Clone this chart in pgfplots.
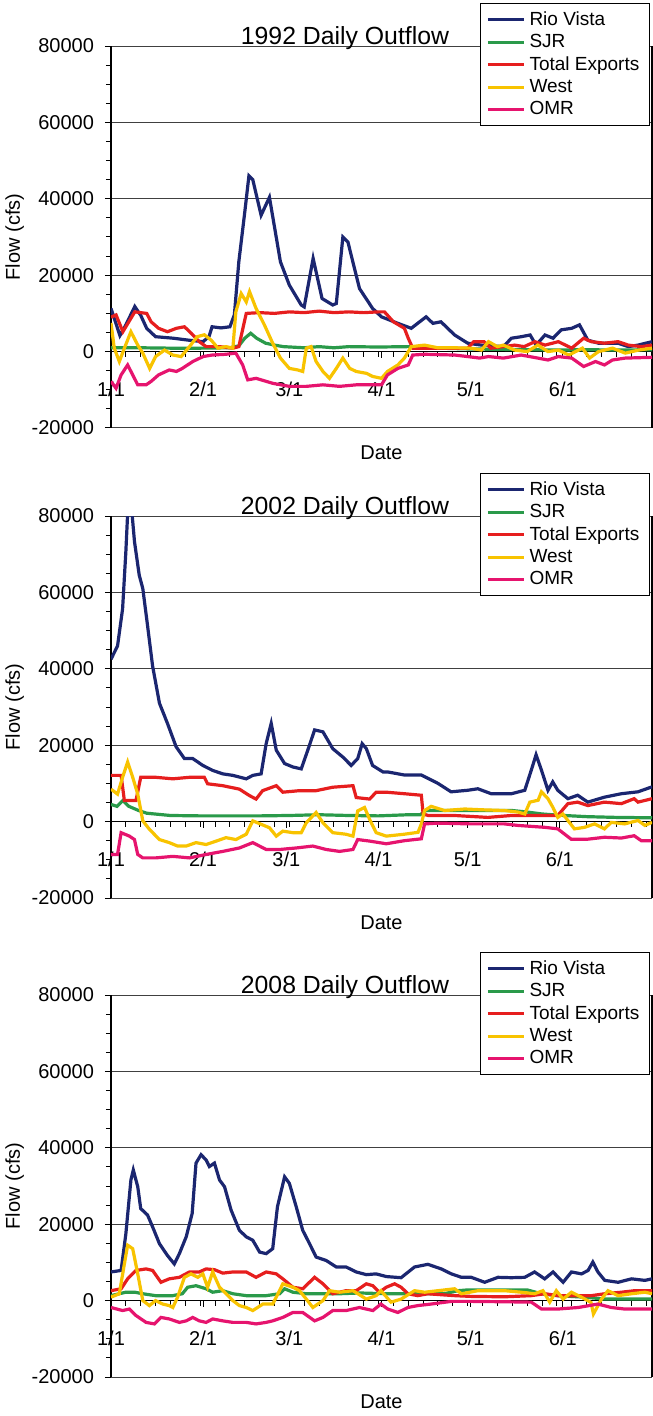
\documentclass[border=0pt]{standalone}
\usepackage{fontspec}
\setmainfont{Liberation Sans}
\usepackage{pgfplots}
\pgfplotsset{compat=1.18}

\definecolor{rio}{RGB}{27,38,112}
\definecolor{sjr}{RGB}{42,154,74}
\definecolor{exports}{RGB}{230,30,30}
\definecolor{west}{RGB}{248,195,0}
\definecolor{omr}{RGB}{230,20,110}

\pgfplotsset{
  flowpanel/.style={
    scale only axis, width=270.5pt, height=191pt,
    anchor=south west,
    xmin=0, xmax=182, ymin=-20000, ymax=80000,
    axis x line=middle, axis y line=box, ytick pos=left,
    axis line style={-, black, line width=0.6pt},
    hide obscured x ticks=false, hide obscured y ticks=false,
    ytick={-20000,0,20000,40000,60000,80000},
    minor ytick={-15000,-10000,...,75000},
    minor xtick={5,10,...,180},
    ymajorgrids, grid style={black!75, line width=0.5pt},
    tick align=outside,
    major tick length=3pt, minor tick length=2.5pt,
    tick style={black, line width=0.5pt},
    scaled y ticks=false,
    /pgf/number format/1000 sep={},
    /pgf/number format/assume math mode=true,
    tick label style={font=\fontsize{10}{12}\selectfont},
    xticklabel style={yshift=-8.5pt},
    yticklabel style={xshift=-2pt},
    every axis title shift=0pt,
    title style={at={(0.4325,1)}, anchor=base, yshift=1pt,
      font=\fontsize{12.4}{14}\selectfont},
    xlabel=Date, ylabel={Flow (cfs)},
    xlabel style={at={(axis description cs:0.5,-0.065)}, anchor=center,
      font=\fontsize{10}{12}\selectfont},
    ylabel style={at={(axis description cs:-0.178,0.5)}, anchor=center,
      font=\fontsize{10}{12}\selectfont},
    legend style={at={(0.996,1.113)}, anchor=north east, draw=black,
      line width=0.5pt, fill=white, font=\fontsize{9.5}{11}\selectfont,
      inner xsep=3pt, inner ysep=2pt, row sep=-1pt},
    legend cell align=left,
    legend image code/.code={\draw[#1] (0pt,0pt) -- (18pt,0pt);},
    every axis plot/.append style={line width=1.6pt, mark=none},
  }
}

\begin{document}
\begin{tikzpicture}
\useasboundingbox (0,0) rectangle (326pt,-708pt);

% 1992
\begin{axis}[flowpanel, at={(55.5pt,-214pt)}, title={1992 Daily Outflow},
  xtick={0,31,60,91,121,152}, xticklabels={1/1,2/1,3/1,4/1,5/1,6/1}]
\addplot[rio] coordinates {(0,11300)(3,4200)(5,7000)(8,11800)(10,9500)(12,6100)(15,3900)(21,3500)(26,3000)(31,2600)(33,4000)(34,6500)(37,6200)(40,6500)(41.5,9600)(43,23500)(45,36500)(46.4,46000)(47.7,45000)(50.5,35700)(53.3,40400)(57,23500)(60,17400)(64,12200)(65,11700)(68,24400)(71,13900)(74.6,12200)(75.8,12600)(78,30000)(79.7,28700)(83.6,16500)(88,11300)(91,9100)(96.5,7400)(101,6100)(106,9100)(108.3,7400)(111,7800)(115.6,4350)(120,2200)(124.6,1700)(132,1300)(134.7,3500)(138,3900)(141,4350)(143,1700)(146,4350)(148.7,3500)(151.5,5700)(155,6100)(157.6,7000)(160.4,3000)(164,2200)(170.6,2200)(174,1300)(177.3,1700)(182,2600)};
\addplot[sjr] coordinates {(0,1000)(10,1000)(20,900)(30,900)(40,1000)(43,1500)(45,3500)(47,4800)(49,3500)(52,2200)(55,1700)(58,1300)(65,1000)(70,1300)(75,1000)(80,1300)(90,1200)(100,1300)(110,900)(120,700)(130,600)(140,500)(150,400)(160,500)(170,400)(182,500)};
\addplot[exports] coordinates {(0,9000)(1.7,9600)(4,5200)(8,10400)(12,10000)(13.5,7800)(16,6100)(19,5200)(22,6100)(24.7,6500)(27,4800)(29.7,2600)(32,1300)(36.5,1300)(41,900)(43,1300)(45.5,10000)(50,10200)(55,10000)(60,10400)(65,10200)(70,10600)(75,10200)(80,10400)(85,10200)(90,10400)(92,10400)(95,7800)(98.7,6100)(100,3500)(101.5,900)(110,900)(120,900)(122,2600)(125.5,2600)(127.8,900)(132,1300)(135.8,1700)(139,1300)(142.6,2600)(146,1700)(150.5,2600)(155,900)(159,3500)(161.6,2600)(166,2200)(170.6,2600)(174,1700)(178.4,1300)(182,1700)};
\addplot[west] coordinates {(0,7500)(1.1,900)(2.8,-2600)(4.5,900)(6.7,5200)(9,1700)(10.7,-400)(13,-4400)(15,-1300)(18,400)(20.8,-900)(23.6,-1300)(26.4,1300)(29,3900)(31.4,4400)(33.7,3000)(36,900)(38.7,1300)(41,900)(42,10400)(43.8,15200)(45.5,13000)(46.6,15700)(48.8,11300)(51.6,7000)(54.4,2200)(57,-1700)(60,-4400)(62.8,-4800)(64.5,-5200)(65.7,900)(67.3,1300)(69,-2600)(71.3,-5200)(73.5,-7000)(75.8,-4400)(78,-1700)(80.3,-4400)(82.5,-5200)(86,-5700)(88,-6500)(91,-7000)(93,-5200)(96.5,-3500)(98.7,-1700)(101,1300)(105.5,1700)(110,1000)(115.6,1000)(121,900)(124.6,400)(127,2600)(130,1300)(132,1700)(135.8,400)(140,0)(143.6,1700)(147,0)(150.5,400)(154,-900)(158.6,900)(161,-1700)(164,0)(168.7,900)(173,-400)(177.5,400)(182,900)};
\addplot[omr] coordinates {(0,-7800)(1.7,-9600)(3.4,-6100)(5.6,-3500)(7.3,-6100)(9,-8700)(11.8,-8700)(13.5,-7800)(16,-6100)(19.6,-4800)(22,-5200)(24,-4400)(27.5,-2600)(31,-1300)(34,-900)(38.7,-700)(42,-400)(44.3,-3500)(46,-7400)(48.8,-7000)(54.4,-8300)(60,-9100)(65.7,-9100)(71.3,-8700)(76.9,-9100)(82.5,-8700)(88,-8700)(91,-8700)(93,-6100)(96.5,-4400)(100,-3500)(101.5,-900)(105.5,-700)(115.6,-900)(120,-1300)(124,-1700)(127,-1300)(132,-1700)(138,-900)(143.6,-1700)(147,-2200)(150.5,-1300)(155,-1700)(159,-3900)(163,-2600)(166,-3500)(168.7,-2200)(173,-1700)(182,-1500)};
\legend{Rio Vista,SJR,Total Exports,West,OMR}
\end{axis}

% 2002
\begin{axis}[flowpanel, at={(55.5pt,-449pt)}, title={2002 Daily Outflow},
  xtick={0,31,59,90,120,151}, xticklabels={1/1,2/1,3/1,4/1,5/1,6/1}]
\addplot[rio] coordinates {(0,42500)(2.2,46000)(3.9,55700)(5,70700)(5.8,84000)(6.7,84000)(7.9,73300)(9.5,64500)(10.7,61000)(12.3,51300)(14,40700)(16.3,31000)(19,25700)(21.9,19600)(24.7,16500)(27.5,16500)(30.9,14700)(34.2,13400)(37.6,12500)(41,12100)(45.5,11200)(47.7,12100)(50.5,12500)(52.2,20400)(53.9,25700)(55.6,18700)(58.4,15200)(61.2,14300)(64,13800)(66.2,18700)(68.5,24000)(71.3,23500)(74.6,19100)(78,16900)(80.8,14700)(83,16500)(84.5,20400)(85.9,19100)(88,14700)(91.5,13000)(93.1,13000)(98.7,12200)(104.4,12200)(110,10000)(114.4,7800)(120,8200)(123.4,8600)(127.9,7300)(134.7,7300)(139.2,8200)(141.4,13500)(143,17500)(144.8,13500)(147,8200)(148.6,10400)(150.3,8200)(153.7,6000)(157,6900)(160.4,5100)(166,6400)(171.7,7300)(177.3,7800)(182,9100)};
\addplot[sjr] coordinates {(0,4500)(2,4000)(4,5500)(6,4000)(9,3000)(12,2200)(20,1600)(30,1500)(40,1500)(50,1500)(60,1600)(70,1800)(80,1600)(90,1500)(100,1800)(104,1800)(106,2900)(120,2900)(135,2900)(140,2500)(145,2000)(150,1700)(160,1300)(170,1100)(182,1000)};
\addplot[exports] coordinates {(0,12100)(3.4,12100)(4.5,5500)(8.4,5500)(10,11600)(15,11600)(20.8,11200)(26.4,11600)(31.4,11600)(32.5,9900)(37.6,9400)(43.2,8500)(46.6,6800)(48.8,5900)(51,8100)(55.6,9400)(57.8,7700)(63.4,8100)(69,8100)(74.6,9000)(81.4,9400)(82.5,6300)(87,5900)(89.2,7700)(92.6,7700)(98.7,7300)(104.4,6900)(105,2000)(106.7,1600)(115.6,1600)(126.8,1100)(134.7,1600)(141.4,1600)(150.3,1600)(153.7,4700)(157,5100)(160.4,4200)(166,5100)(171.7,4700)(176,6000)(177.3,5100)(182,6000)};
\addplot[west] coordinates {(0,8500)(2.2,7200)(3.9,11600)(5.6,15600)(7.3,11600)(9,7200)(10.7,200)(12.9,-2000)(16.3,-4700)(19.6,-5500)(22.4,-6400)(25.3,-6400)(28.6,-5500)(32,-6000)(35.4,-5100)(38.7,-4200)(42,-4700)(45.5,-3300)(47.7,200)(50.5,-700)(53.3,-1600)(55.6,-3800)(57.8,-2500)(61.2,-2900)(64,-2900)(65.7,-300)(69,2400)(71.3,-300)(74.6,-2900)(79,-3300)(81.4,-3800)(83,2800)(85.3,3700)(87,600)(89.2,-2900)(92.6,-3800)(98.7,-3300)(103.3,-2800)(104.4,-600)(105.5,2900)(107.7,4000)(112.2,2900)(119,3300)(124.6,3100)(132.4,2900)(136.9,2500)(139.2,2000)(140.9,5100)(143.7,5600)(144.8,7800)(147,6000)(148.6,3800)(150.3,1100)(152,2000)(153.7,300)(155.9,-1900)(159.3,-1500)(162.7,-600)(166,-1900)(168.3,-200)(172.8,-600)(177.3,300)(179.6,-1000)(182,-200)};
\addplot[omr] coordinates {(0,-8600)(2.2,-8600)(3.4,-2900)(6.2,-3800)(7.9,-4700)(9,-8600)(10.7,-9500)(15,-9500)(20.8,-9100)(26.4,-9500)(32,-8600)(37.6,-7800)(43.2,-6900)(47.7,-5500)(52.2,-7300)(56.7,-7300)(62.3,-6900)(67.9,-6400)(72.4,-7300)(76.9,-7800)(81.4,-7300)(83,-4700)(87,-5100)(92.6,-5800)(98.7,-5000)(104.4,-4500)(105.5,-600)(110,-400)(121.2,-600)(132.4,-600)(136.9,-1000)(146,-1500)(150.3,-1900)(154.8,-4600)(160.4,-4600)(166,-4100)(171.7,-4300)(176,-3700)(178.4,-5000)(182,-5000)};
\legend{Rio Vista,SJR,Total Exports,West,OMR}
\end{axis}

% 2008
\begin{axis}[flowpanel, at={(55.5pt,-688.5pt)}, title={2008 Daily Outflow},
  xtick={0,31,60,91,121,152}, xticklabels={1/1,2/1,3/1,4/1,5/1,6/1}]
\addplot[rio] coordinates {(0,7500)(3.4,7900)(5,17500)(6.7,31600)(7.5,34200)(9,29800)(10,24100)(12.3,22400)(14,19300)(16.3,14900)(19,11800)(21.3,9600)(23,12300)(25.3,16700)(27.3,22800)(28.6,36000)(30.3,38200)(32,36800)(33.1,35100)(34.8,36000)(36.5,31600)(38.2,29800)(40.4,23700)(43.2,18400)(45.5,16700)(47.7,15800)(50,12700)(52.2,12300)(54.4,13600)(56,24600)(58.4,32400)(60,30700)(62.3,24600)(64.5,18400)(66.8,14900)(69,11400)(72.4,10500)(75.8,8800)(79.1,8800)(82.5,7500)(85.9,6800)(89.2,7000)(92.6,6300)(97.6,6000)(102.1,8800)(106.6,9500)(111.1,8300)(114.5,7000)(117.9,6100)(121.2,6100)(125.7,4800)(130.2,6100)(134.7,6000)(139.2,6100)(142.5,7500)(145.9,5700)(148.7,7500)(152.1,4800)(154.9,7500)(158.3,7000)(160.5,7900)(162.1,10100)(163.8,7500)(166.1,5300)(170.6,4800)(175.1,5700)(179.6,5300)(182,5700)};
\addplot[sjr] coordinates {(0,1300)(5,2200)(8,2200)(10.7,1800)(15,1300)(20.8,1300)(24,1800)(25.8,3500)(28.6,3900)(32,3100)(34.2,2200)(37.6,2600)(41,1800)(45.5,1300)(52.2,1300)(56.7,1800)(58.4,3100)(61.2,2200)(65.7,1800)(76.9,1800)(83.6,2000)(92.6,1800)(105,1800)(112,1800)(116.8,2600)(120,2800)(140,2800)(144.8,1800)(150,1300)(159.4,900)(166.1,400)(182,400)};
\addplot[exports] coordinates {(0,2600)(3.4,3100)(5.6,5700)(8.4,7900)(11.8,8300)(14,7900)(16.8,4800)(19.6,5700)(23,6100)(26.4,7500)(29.7,7500)(32,8300)(34.8,8100)(37.6,7200)(41,7500)(45.5,7500)(48.8,6100)(52.2,7500)(55.6,7000)(57.8,5700)(61.2,3500)(64.5,3100)(68.5,6100)(71.3,4400)(74.6,1800)(79.1,2600)(82.5,2600)(85.9,4400)(88.1,3900)(90.3,2200)(92.6,3500)(95.4,4400)(97.6,3500)(99.9,1800)(103.2,1300)(106.6,1800)(110,1600)(115.6,1300)(121.2,1100)(132.4,1000)(141.4,1300)(145.9,1800)(150.4,1300)(154.9,1300)(161.6,1300)(166.1,1800)(171.7,2200)(176.2,2600)(182,2600)};
\addplot[west] coordinates {(0,900)(2.8,1800)(4.5,9600)(5.6,14500)(7.3,13600)(9,7000)(10.7,0)(12.9,-1300)(15,0)(17.4,-900)(19.6,-1300)(20.8,-1800)(22.4,900)(24.7,6100)(26.9,7000)(29.2,6100)(30.9,7000)(32.5,3500)(34.2,7500)(36.5,3500)(38.7,1800)(41,0)(43.2,-1300)(45.5,-1800)(47.7,-2600)(51.1,-900)(54.4,-900)(56.7,2600)(57.8,4400)(61.2,3500)(63.4,2600)(65.7,400)(67.9,-1800)(71.3,0)(73.5,2600)(76.9,2200)(81.4,2600)(85.9,400)(89.2,1300)(90.8,2600)(94.2,-400)(97.6,400)(102.1,2600)(105.5,2200)(110,2600)(115.6,3100)(117.9,1800)(123.5,2600)(132.4,2600)(138,2200)(142.5,1800)(145.3,2600)(147.6,-400)(149.8,2600)(152.1,400)(154.9,2200)(158.3,900)(161.5,-500)(162.3,-3500)(165,400)(167.2,2600)(170.6,1300)(175.1,1800)(179.6,2200)(182,1800)};
\addplot[omr] coordinates {(0,-1800)(3.9,-2600)(6.2,-2200)(8.4,-3900)(11.8,-5700)(14.6,-6100)(16.8,-4400)(19.6,-4800)(23,-5700)(25.3,-5300)(27.5,-4400)(29.7,-5300)(32,-5700)(34.2,-4800)(37.6,-5300)(41,-5700)(45.5,-5700)(48.8,-6100)(52.2,-5700)(54.4,-5300)(57.8,-4400)(61.2,-3100)(64.5,-3100)(68.5,-5300)(71.3,-4400)(74.6,-2600)(79.1,-2600)(83.6,-1800)(88.1,-2600)(90.8,-900)(93.1,-2200)(96.5,-3100)(99.9,-1800)(103.2,-1300)(107.7,-900)(114.5,-200)(121.2,-200)(132.4,-300)(141.4,-400)(144.8,-2200)(150.4,-2200)(157.2,-1800)(163.8,-900)(168.3,-1800)(172.8,-2200)(182,-2200)};
\legend{Rio Vista,SJR,Total Exports,West,OMR}
\end{axis}
\end{tikzpicture}
\end{document}
